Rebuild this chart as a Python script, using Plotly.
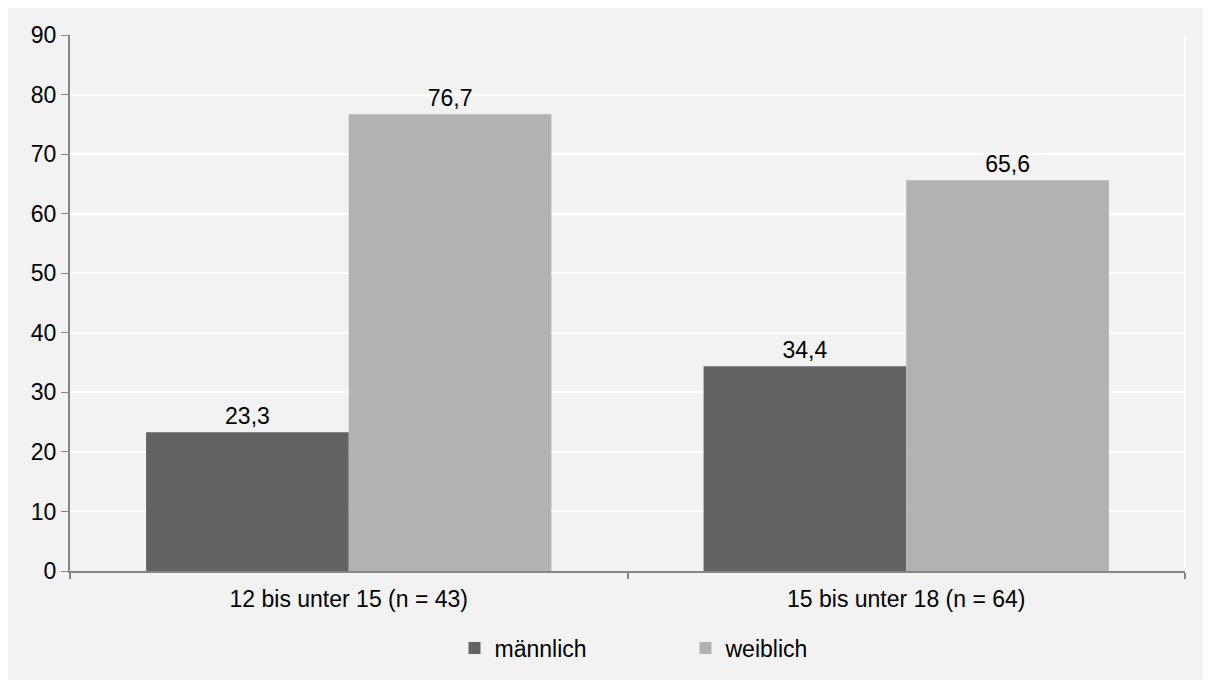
import plotly.graph_objects as go

categories = ["12 bis unter 15 (n = 43)", "15 bis unter 18 (n = 64)"]
maennlich = [23.3, 34.4]
weiblich = [76.7, 65.6]
y_ticks = [0, 10, 20, 30, 40, 50, 60, 70, 80, 90]

# the page body adds an 8px offset to the figure
W, H = 1211, 680
L, R, T, B = 62, 34, 27, 117
pw = W - L - R
ph = H - T - B

font = dict(family="Liberation Sans, Arial, sans-serif", size=23, color="#000000")

fig = go.Figure()
fig.add_trace(go.Bar(x=categories, y=maennlich, name="männlich", marker=dict(color="#626262", line=dict(width=0)),
                     texttemplate="%{y:.1f}", textposition="outside", textfont=font, cliponaxis=False))
fig.add_trace(go.Bar(x=categories, y=weiblich, name="weiblich", marker=dict(color="#b2b2b2", line=dict(width=0)),
                     texttemplate="%{y:.1f}", textposition="outside", textfont=font, cliponaxis=False))

# white right border of plot area
fig.add_shape(type="line", xref="paper", yref="paper", x0=1, x1=1, y0=0, y1=1,
              line=dict(color="#ffffff", width=2), layer="below")

fig.update_layout(
    width=W, height=H,
    margin=dict(l=L, r=R, t=T, b=B, autoexpand=False),
    paper_bgcolor="#f2f2f2",
    plot_bgcolor="#f2f2f2",
    barmode="group", bargap=0.273, bargroupgap=0,
    separators=",.",
    font=font,
    showlegend=True,
    legend=dict(orientation="h", x=0.5 + 58 / pw, xanchor="center", y=-(648 - 571) / ph, yanchor="middle",
                font=font, bgcolor="rgba(0,0,0,0)", itemwidth=30, traceorder="normal",
                entrywidth=186),
    xaxis=dict(showline=True, linecolor="#868686", linewidth=2, ticks="outside", ticklen=6,
               tickcolor="#868686", tickwidth=2, tickson="boundaries", showgrid=False,
               tickfont=font, automargin=False, ticklabelstandoff=6),
    yaxis=dict(range=[0, 90], tickvals=y_ticks, showline=True, linecolor="#868686", linewidth=2,
               ticks="outside", ticklen=7, tickcolor="#868686", tickwidth=1,
               gridcolor="#ffffff", gridwidth=2, zeroline=False, tickfont=font, automargin=False),
)

fig.write_html("out.html")
